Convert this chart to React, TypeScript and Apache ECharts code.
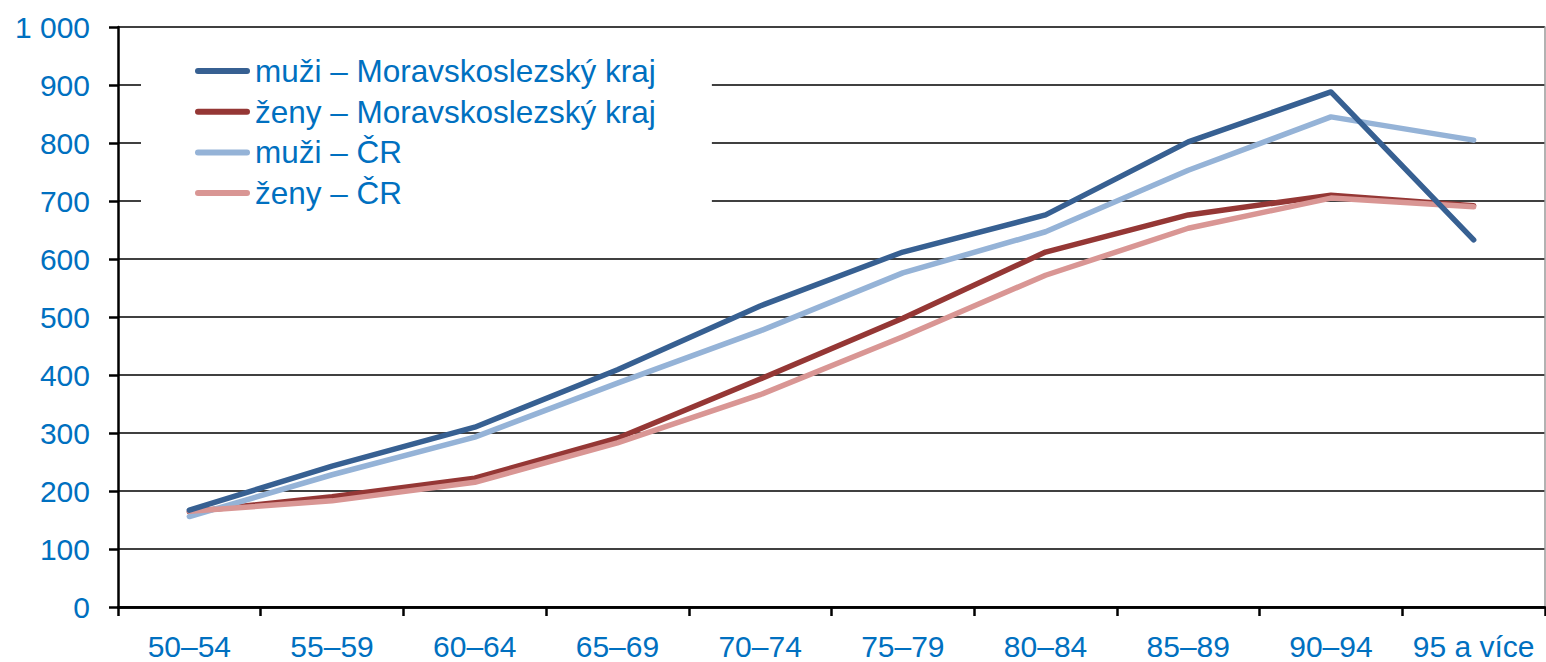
import React, { useEffect, useRef } from "react";
import * as echarts from "echarts";

const categories = ["50–54", "55–59", "60–64", "65–69", "70–74", "75–79", "80–84", "85–89", "90–94", "95 a více"];
const seriesNames = ["muži – Moravskoslezský kraj", "ženy – Moravskoslezský kraj", "muži – ČR", "ženy – ČR"];
const muziMSK = [167, 243, 310, 409, 519, 612, 676, 802, 888, 633];
const zenyMSK = [164, 190, 222, 291, 393, 498, 612, 676, 710, 692];
const muziCR = [156, 228, 293, 386, 476, 576, 647, 753, 845, 805];
const zenyCR = [165, 183, 215, 283, 366, 466, 572, 653, 705, 690];
const seriesColors = ["#376092", "#953735", "#95B3D7", "#D99694"];
const seriesData = [muziMSK, zenyMSK, muziCR, zenyCR];
const seriesZ = [5, 3, 4, 4];

const FONT = "'Liberation Sans', Arial, sans-serif";
const BLUE = "#0070C0";

export default function App() {
  const ref = useRef<HTMLDivElement>(null);
  useEffect(() => {
    if (!ref.current) return;
    const chart = echarts.init(ref.current, undefined, { renderer: "svg" });
    chart.setOption({
      animation: false,
      backgroundColor: "#fff",
      textStyle: { fontFamily: FONT },
      grid: { left: 118, right: 1, top: 27, bottom: 55, containLabel: false },
      legend: {
        data: seriesNames,
        orient: "vertical",
        left: 141,
        top: 35,
        backgroundColor: "#fff",
        padding: [20, 56, 18, 54],
        itemGap: 8.7,
        itemWidth: 55,
        itemHeight: 6,
        icon: "path://M3,0 H52 A3,3 0 0 1 52,6 H3 A3,3 0 0 1 3,0 Z",
        textStyle: { color: BLUE, fontSize: 31.5, fontFamily: FONT, lineHeight: 30 },
        z: 10,
      },
      xAxis: [
        {
          type: "category",
          data: categories,
          boundaryGap: true,
          axisLine: { show: true, lineStyle: { color: "#000", width: 2.5 } },
          axisTick: { show: true, length: 9, lineStyle: { color: "#000", width: 2.5 } },
          axisLabel: { color: BLUE, fontSize: 30, fontFamily: FONT, margin: 24, interval: 0 },
          splitLine: { show: false },
        },
        {
          type: "category",
          data: categories,
          position: "top",
          boundaryGap: true,
          axisLine: { show: true, lineStyle: { color: "#000", width: 2.5 } },
          axisTick: { show: false },
          axisLabel: { show: false },
          splitLine: { show: false },
        },
      ],
      yAxis: [
        {
          type: "value",
          min: 0,
          max: 1000,
          interval: 100,
          axisLine: { show: true, lineStyle: { color: "#000", width: 2.5 } },
          axisTick: { show: true, length: 9, lineStyle: { color: "#000", width: 2.5 } },
          axisLabel: {
            color: BLUE,
            fontSize: 30,
            fontFamily: FONT,
            margin: 28,
            formatter: (v: number) => (v >= 1000 ? "1 000" : String(v)),
          },
          splitLine: { show: true, lineStyle: { color: "#000", width: 1.5 } },
        },
        {
          type: "value",
          min: 0,
          max: 1000,
          interval: 100,
          position: "right",
          axisLine: { show: true, lineStyle: { color: "#999", width: 1.5 } },
          axisTick: { show: false },
          axisLabel: { show: false },
          splitLine: { show: false },
        },
      ],
      series: seriesNames.map((name, i) => ({
        name,
        type: "line",
        data: seriesData[i],
        symbol: "none",
        showSymbol: false,
        z: seriesZ[i],
        color: seriesColors[i],
        lineStyle: { color: seriesColors[i], width: 5.5, cap: "round", join: "round" },
        itemStyle: { color: seriesColors[i] },
      })),
    });
    return () => chart.dispose();
  }, []);
  return (
    <div
      ref={ref}
      style={{ position: "fixed", left: 0, top: 0, width: 1546, height: 662, background: "#fff" }}
    />
  );
}
